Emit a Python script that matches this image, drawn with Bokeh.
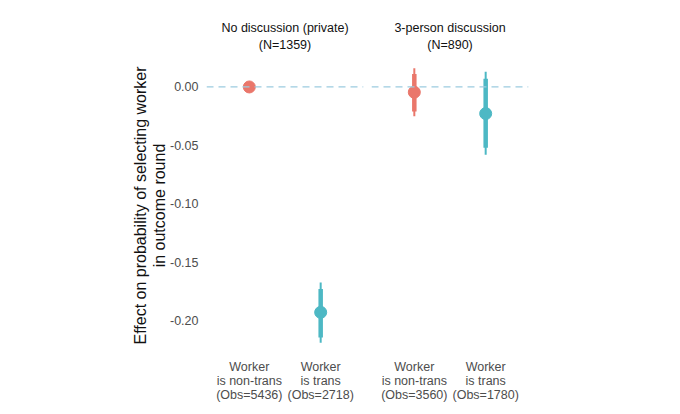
from bokeh.plotting import figure
from bokeh.layouts import row
from bokeh.models import Range1d, FixedTicker, NumeralTickFormatter, Span, ColumnDataSource, Title
from bokeh.embed import file_html
from bokeh.resources import INLINE

# ---- data ----
panel_titles = ["No discussion (private)", "3-person discussion"]
panel_n = ["(N=1359)", "(N=890)"]
workers = ["Worker\nis non-trans", "Worker\nis trans"]
obs = [[5436, 2718], [3560, 1780]]
estimate = [[0.0, -0.193], [-0.0045, -0.0228]]
ci95_low = [[0.0, -0.219], [-0.025, -0.058]]
ci95_high = [[0.0, -0.1675], [0.016, 0.013]]
ci90_low = [[0.0, -0.2145], [-0.021, -0.052]]
ci90_high = [[0.0, -0.173], [0.011, 0.007]]
y_ticks = [-0.20, -0.15, -0.10, -0.05, 0.00]

colors = ["#EA776B", "#4DB8C4"]
FONT = "Liberation Sans"
FS = "12.5px"

yr = Range1d(-0.2308, 0.0278)

figs = []
for i in range(2):
    cats = [f"{w}\n(Obs={o})" for w, o in zip(workers, obs[i])]
    left = i == 0
    p = figure(
        x_range=cats, y_range=yr,
        frame_width=157, frame_height=302,
        output_backend="svg", toolbar_location=None,
        min_border_left=206 if left else 4,
        min_border_right=4 if left else 100,
        min_border_top=54, min_border_bottom=0,
    )
    p.x_range.range_padding = 0.1
    p.x_range.range_padding_units = "absolute"
    for txt, so in ((panel_n[i], 6), (panel_titles[i], -4)):
        t = Title(text=txt, align="center", text_font=FONT, text_font_size=FS,
                  text_font_style="normal", text_color="#111111",
                  standoff=so, offset=0)
        p.add_layout(t, "above")
    p.outline_line_color = None
    p.grid.visible = False
    p.background_fill_color = None
    p.border_fill_color = None

    # zero reference line
    p.add_layout(Span(location=0, dimension="width", line_color="#9CCBE0",
                      line_dash="7 5", line_width=1.2))

    src = ColumnDataSource(dict(
        x=cats, y=estimate[i],
        l95=ci95_low[i], h95=ci95_high[i],
        l90=ci90_low[i], h90=ci90_high[i],
        c=colors,
    ))
    p.segment(x0="x", x1="x", y0="l95", y1="h95", line_color="c", line_width=2, source=src)
    p.segment(x0="x", x1="x", y0="l90", y1="h90", line_color="c", line_width=4.5, source=src)
    p.scatter(x="x", y="y", size=12, fill_color="c", line_color="c", source=src)

    xa = p.xaxis[0]
    xa.axis_line_color = None
    xa.major_tick_line_color = None
    xa.minor_tick_line_color = None
    xa.major_tick_out = 0
    xa.major_tick_in = 0
    xa.major_label_text_font = FONT
    xa.major_label_text_font_size = FS
    xa.major_label_text_color = "#4d4d4d"
    xa.major_label_text_align = "center"
    xa.major_label_text_line_height = 1.0
    xa.major_label_standoff = 3

    ya = p.yaxis[0]
    if left:
        ya.ticker = FixedTicker(ticks=y_ticks)
        ya.formatter = NumeralTickFormatter(format="0.00")
        ya.axis_line_color = None
        ya.major_tick_line_color = None
        ya.minor_tick_line_color = None
        ya.major_tick_out = 0
        ya.major_tick_in = 0
        ya.major_label_text_font = FONT
        ya.major_label_text_font_size = FS
        ya.major_label_text_color = "#4d4d4d"
        ya.major_label_standoff = 8
        ya.axis_label = "Effect on probability of selecting worker\nin outcome round"
        ya.axis_label_text_font = FONT
        ya.axis_label_text_font_size = "16px"
        ya.axis_label_text_font_style = "normal"
        ya.axis_label_text_color = "#111111"
        ya.axis_label_text_line_height = 1.1
        ya.axis_label_standoff = -1
    else:
        p.yaxis.visible = False
    figs.append(p)

layout = row(*figs, spacing=0)
open("out.html", "w").write(file_html(layout, INLINE))
